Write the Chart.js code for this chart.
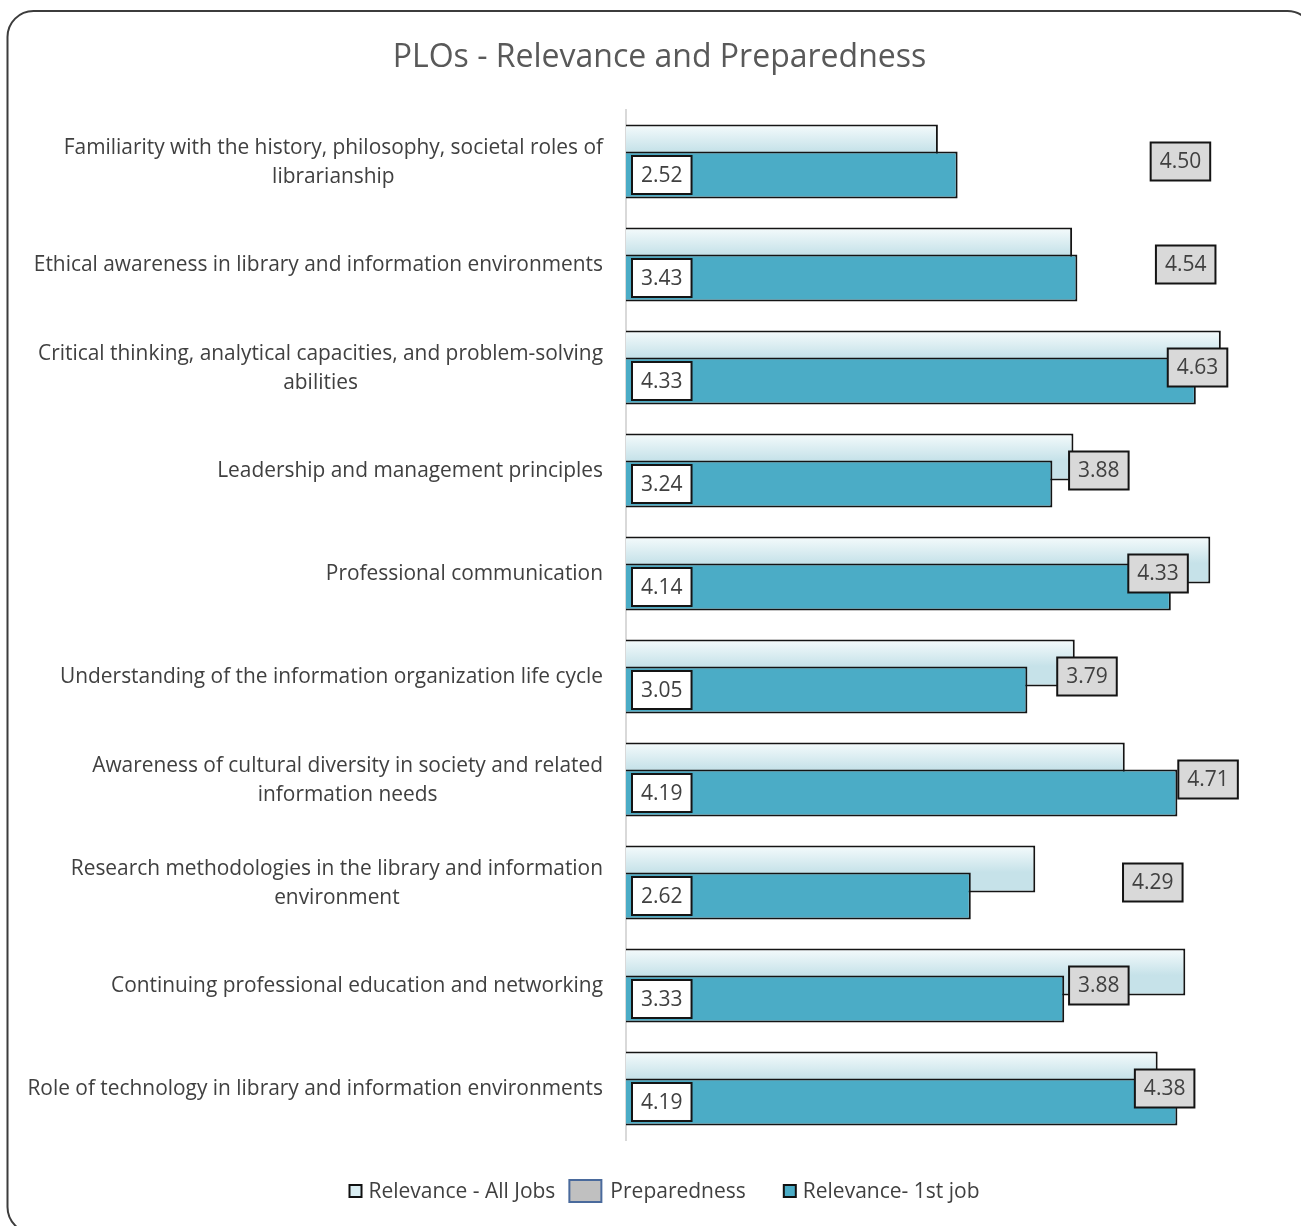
<!DOCTYPE html>
<html>
<head>
<meta charset="utf-8">
<title>PLOs - Relevance and Preparedness</title>
<script src="https://cdn.jsdelivr.net/npm/chart.js@4.4.1/dist/chart.umd.min.js"></script>
<style>
  html, body { margin: 0; padding: 0; background: #fff; overflow: hidden; }
  #wrap { position: relative; width: 1301px; height: 1226px; }
</style>
</head>
<body>
<div id="wrap"><canvas id="plos" width="1301" height="1226"></canvas></div>
<script>
// program learning outcomes, top to bottom
const categories = [
  ['Familiarity with the history, philosophy, societal roles of', 'librarianship'],
  'Ethical awareness in library and information environments',
  ['Critical thinking, analytical capacities, and problem-solving', 'abilities'],
  'Leadership and management principles',
  'Professional communication',
  'Understanding of the information organization life cycle',
  ['Awareness of cultural diversity in society and related', 'information needs'],
  ['Research methodologies in the library and information', 'environment'],
  'Continuing professional education and networking',
  'Role of technology in library and information environments'
];

const relevanceAllJobs = [2.37, 3.39, 4.52, 3.40, 4.44, 3.41, 3.79, 3.11, 4.25, 4.04];
const preparedness = [4.50, 4.54, 4.63, 3.88, 4.33, 3.79, 4.71, 4.29, 3.88, 4.38];
const relevanceFirstJob = [2.52, 3.43, 4.33, 3.24, 4.14, 3.05, 4.19, 2.62, 3.33, 4.19];

const seriesNames = ['Relevance - All Jobs', 'Preparedness', 'Relevance- 1st job'];
const scaleMin = 0;
const scaleMax = 5;

const FONT = '"Open Sans", Lato, sans-serif';
const TEXT = '#404040';
const TEAL = '#4bacc6';

// light bars fade from near white at the top to pale blue
function lightGradient(ctx) {
  const chart = ctx.chart;
  const yScale = chart.scales.y;
  if (ctx.type !== 'data' || !yScale || !chart.chartArea) return '#d6ebf0';
  const band = yScale.height / categories.length;
  const mid = yScale.getPixelForValue(ctx.dataIndex);
  const g = chart.ctx.createLinearGradient(0, mid - band * 0.36, 0, mid - band * 0.1);
  g.addColorStop(0, '#f5fbfc');
  g.addColorStop(1, '#c6e2e9');
  return g;
}

// rounded outline around the whole chart
const frame = {
  id: 'frame',
  beforeDraw(chart) {
    const ctx = chart.ctx;
    ctx.save();
    ctx.fillStyle = '#fff';
    ctx.fillRect(0, 0, chart.width, chart.height);
    ctx.restore();
  },
  afterDraw(chart) {
    const ctx = chart.ctx;
    ctx.save();
    ctx.strokeStyle = '#3c3c3c';
    ctx.lineWidth = 2;
    ctx.beginPath();
    ctx.roundRect(7.5, 11, 1306, 1222, 26);
    ctx.stroke();
    ctx.restore();
  }
};

// all-jobs bars sit under the 1st-job bars, so paint datasets front to back
const barOrder = {
  id: 'barOrder',
  beforeDatasetsDraw(chart) {
    [0, 1, 2].forEach(i => {
      const meta = chart.getDatasetMeta(i);
      if (!meta.hidden) meta.controller.draw();
    });
    return false;
  }
};

// category names: block right aligned against the axis, lines centred
const categoryLabels = {
  id: 'categoryLabels',
  afterDraw(chart) {
    const ctx = chart.ctx;
    const yScale = chart.scales.y;
    const right = chart.chartArea.left - 23;
    const lineH = 29;
    ctx.save();
    ctx.font = '20.9px ' + FONT;
    ctx.fillStyle = TEXT;
    ctx.textAlign = 'center';
    ctx.textBaseline = 'middle';
    categories.forEach((label, i) => {
      const lines = Array.isArray(label) ? label : [label];
      const w = Math.max(...lines.map(l => ctx.measureText(l).width));
      const y = yScale.getPixelForTick(i) + 1;
      lines.forEach((line, k) => {
        ctx.fillText(line, right - w / 2, y + (k - (lines.length - 1) / 2) * lineH);
      });
    });
    ctx.restore();
  }
};

function labelBox(ctx, text, x, y, fill, alignRight) {
  const padX = 9;
  const h = 38;
  const w = ctx.measureText(text).width + padX * 2;
  const left = alignRight ? x - w : x;
  ctx.fillStyle = fill;
  ctx.fillRect(left, y - h / 2, w, h);
  ctx.strokeStyle = '#141414';
  ctx.lineWidth = 2;
  ctx.strokeRect(left, y - h / 2, w, h);
  ctx.fillStyle = TEXT;
  ctx.fillText(text, left + w / 2, y + 1);
}

// value boxes: preparedness at the bar end, 1st job at the bar base
const valueLabels = {
  id: 'valueLabels',
  afterDraw(chart) {
    const ctx = chart.ctx;
    ctx.save();
    ctx.font = '21px ' + FONT;
    ctx.textAlign = 'center';
    ctx.textBaseline = 'middle';
    chart.getDatasetMeta(1).data.forEach((el, i) => {
      labelBox(ctx, preparedness[i].toFixed(2), el.x - 8, el.y, '#d9d9d9', true);
    });
    chart.getDatasetMeta(2).data.forEach((el, i) => {
      labelBox(ctx, relevanceFirstJob[i].toFixed(2), el.base + 6, el.y, '#ffffff', false);
    });
    ctx.restore();
  }
};

// legend row under the plot
const legendRow = {
  id: 'legendRow',
  afterDraw(chart) {
    const ctx = chart.ctx;
    const y = 1191;
    const items = [
      { text: seriesNames[0], w: 12, h: 12, fill: '#daeef3', stroke: '#111', gap: 7, after: 14 },
      { text: seriesNames[1], w: 32, h: 22, fill: '#c0c0c0', stroke: '#4a6a9c', gap: 9, after: 38 },
      { text: seriesNames[2], w: 12, h: 12, fill: TEAL, stroke: '#111', gap: 7, after: 0 }
    ];
    ctx.save();
    ctx.font = '21px ' + FONT;
    ctx.textBaseline = 'middle';
    ctx.textAlign = 'left';
    let total = 0;
    items.forEach(it => { it.tw = ctx.measureText(it.text).width; total += it.w + it.gap + it.tw + it.after; });
    let x = chart.width / 2 + 14 - total / 2;
    items.forEach(it => {
      ctx.fillStyle = it.fill;
      ctx.fillRect(x, y - it.h / 2, it.w, it.h);
      ctx.strokeStyle = it.stroke;
      ctx.lineWidth = 2;
      ctx.strokeRect(x, y - it.h / 2, it.w, it.h);
      x += it.w + it.gap;
      ctx.fillStyle = TEXT;
      ctx.fillText(it.text, x, y + 1);
      x += it.tw + it.after;
    });
    ctx.restore();
  }
};

const barShape = {
  categoryPercentage: 0.393,
  barPercentage: 3.48,
  borderWidth: 2,
  borderColor: '#141414'
};

new Chart(document.getElementById('plos'), {
  type: 'bar',
  data: {
    labels: categories,
    datasets: [
      { label: seriesNames[0], data: relevanceAllJobs, backgroundColor: lightGradient, ...barShape },
      { label: seriesNames[1], data: preparedness, backgroundColor: 'rgba(0,0,0,0)',
        categoryPercentage: 0.393, barPercentage: 3.48, borderWidth: 0 },
      { label: seriesNames[2], data: relevanceFirstJob, backgroundColor: TEAL, ...barShape }
    ]
  },
  options: {
    indexAxis: 'y',
    responsive: false,
    animation: false,
    devicePixelRatio: 1,
    layout: { padding: { left: 35, right: 17, top: 0, bottom: 86 } },
    scales: {
      x: { display: false, min: scaleMin, max: scaleMax },
      y: {
        type: 'category',
        offset: true,
        grid: { display: false },
        ticks: { display: false },
        border: { display: true, color: '#d9d9d9', width: 2 },
        afterFit(scale) { scale.width = 591; }
      }
    },
    plugins: {
      legend: { display: false },
      tooltip: { enabled: false },
      title: {
        display: true,
        text: 'PLOs - Relevance and Preparedness',
        color: '#595959',
        font: { family: FONT, size: 32, weight: 'normal' },
        padding: { top: 39, bottom: 32.6 }
      }
    }
  },
  plugins: [frame, barOrder, categoryLabels, valueLabels, legendRow]
});
</script>
</body>
</html>
